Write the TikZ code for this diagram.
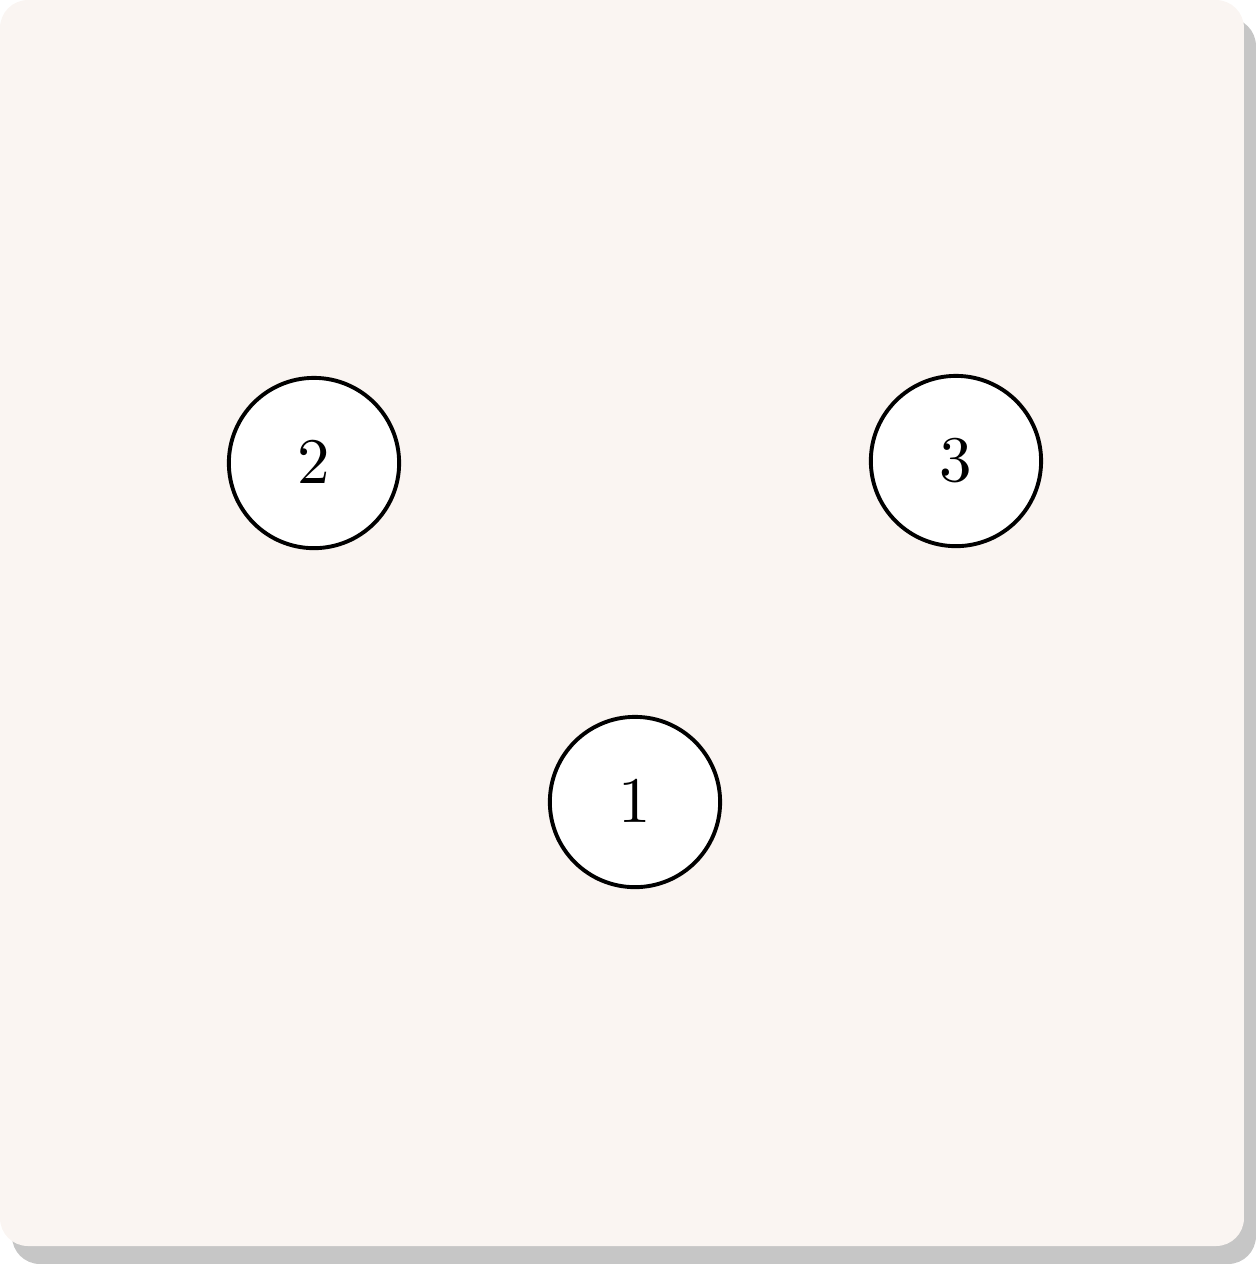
\documentclass[tikz,border=0pt]{standalone}
\definecolor{bgpaper}{HTML}{FAF5F2}
\definecolor{shadowgrey}{HTML}{C6C6C6}
\begin{document}
\begin{tikzpicture}[x=0.15385pt,y=-0.15385pt,
  vertex/.style={circle,draw=black,fill=white,line width=0.6pt,minimum size=26.2pt,inner sep=0pt,font=\normalsize}]
\useasboundingbox (0,0) rectangle (1256,1264);
\fill[shadowgrey,rounded corners=4.3pt] (12,18) rectangle (1256,1264);
\fill[bgpaper,rounded corners=4.3pt] (0,0) rectangle (1244,1246);
\node[vertex] (n2) at (314,463) {$2$};
\node[vertex] (n3) at (956,461) {$3$};
\node[vertex] (n1) at (635,802) {$1$};
\end{tikzpicture}
\end{document}
